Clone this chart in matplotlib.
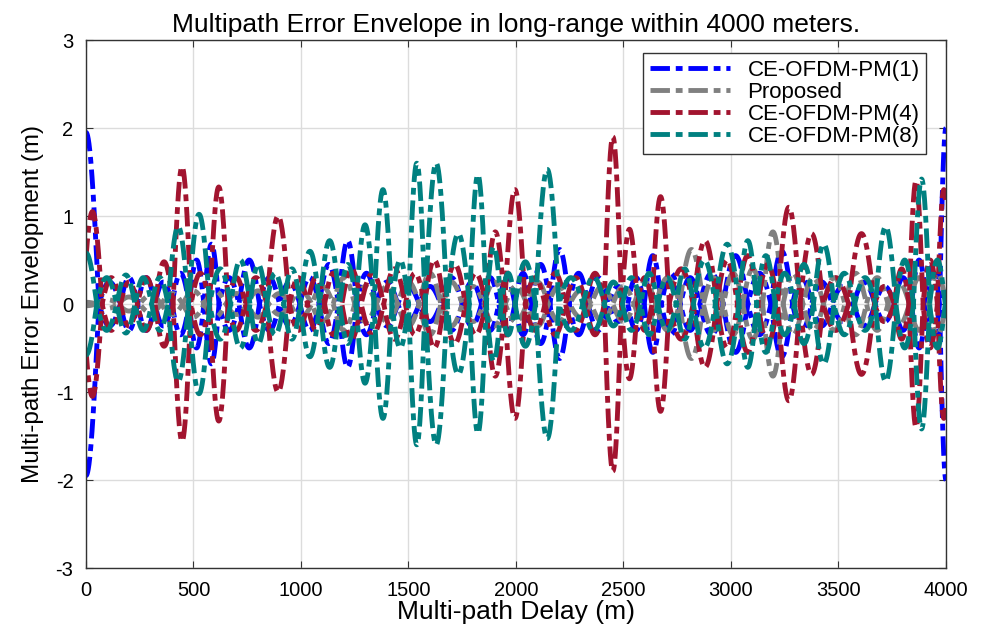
import numpy as np
import matplotlib
matplotlib.use("Agg")
import matplotlib.pyplot as plt

plt.rcParams['font.family'] = ['Liberation Sans', 'DejaVu Sans']
plt.rcParams['axes.unicode_minus'] = False

# lobe peaks of each error envelope: delay (m) and peak error (m)
pm1_x = [0, 120, 200, 280, 360, 440, 520, 577, 660, 763, 850, 950, 1040, 1130, 1219,
         1300, 1400, 1500, 1600, 1700, 1800, 1880, 1960, 2030, 2112, 2205, 2290, 2380,
         2480, 2560, 2633, 2720, 2810, 2900, 3027, 3130, 3242, 3330, 3420, 3520, 3620,
         3720, 3800, 3880, 3940, 4000]
pm1_amp = [1.95, 0.25, 0.3, 0.3, 0.25, 0.35, 0.5, 0.68, 0.3, 0.5, 0.3, 0.25, 0.3, 0.45, 0.72,
           0.35, 0.25, 0.2, 0.2, 0.3, 0.25, 0.3, 0.3, 0.35, 0.45, 0.62, 0.35, 0.3,
           0.2, 0.3, 0.55, 0.35, 0.3, 0.35, 0.55, 0.35, 0.6, 0.3, 0.25, 0.2, 0.25,
           0.2, 0.3, 0.5, 0.45, 2.0]

prop_x = [0, 100, 200, 300, 400, 500, 600, 700, 800, 900, 1000, 1100, 1200, 1300, 1400,
          1500, 1600, 1700, 1800, 1900, 2000, 2100, 2200, 2300, 2400, 2500, 2600, 2700,
          2823, 2920, 3010, 3100, 3195, 3290, 3380, 3480, 3580, 3680, 3780, 3880, 3960]
prop_amp = [0.02, 0.05, 0.08, 0.1, 0.12, 0.15, 0.15, 0.12, 0.15, 0.12, 0.15, 0.2, 0.3, 0.2, 0.2,
            0.25, 0.35, 0.25, 0.2, 0.25, 0.2, 0.25, 0.2, 0.15, 0.2, 0.2, 0.25, 0.3,
            0.62, 0.3, 0.35, 0.4, 0.82, 0.35, 0.3, 0.3, 0.35, 0.3, 0.25, 0.3, 0.35]

pm4_x = [30, 120, 200, 280, 363, 447, 530, 620, 700, 780, 902, 990, 1070, 1150, 1230,
         1330, 1440, 1530, 1620, 1710, 1820, 1900, 1995, 2090, 2180, 2280, 2370, 2451,
         2530, 2600, 2665, 2760, 2888, 2980, 3080, 3170, 3265, 3377, 3480, 3614, 3720,
         3800, 3856, 3930, 3990]
pm4_amp = [1.05, 0.3, 0.25, 0.3, 0.48, 1.56, 0.35, 1.33, 0.3, 0.3, 1.0, 0.3, 0.3, 0.35, 0.4,
           0.35, 0.4, 0.35, 0.5, 0.45, 0.35, 0.82, 1.3, 0.3, 0.35, 0.3, 0.35, 1.9,
           0.85, 0.3, 1.22, 0.4, 0.72, 0.5, 0.55, 0.45, 1.1, 0.8, 0.3, 0.8, 0.2,
           0.4, 1.4, 0.5, 1.3]

pm8_x = [0, 100, 186, 270, 340, 423, 530, 620, 726, 800, 880, 960, 1033, 1140, 1220,
         1293, 1386, 1460, 1540, 1615, 1745, 1822, 1902, 1960, 2033, 2149, 2250, 2372,
         2450, 2540, 2620, 2700, 2790, 2860, 2995, 3079, 3160, 3250, 3340, 3428, 3530,
         3620, 3724, 3810, 3888, 3960]
pm8_amp = [0.58, 0.3, 0.33, 0.3, 0.3, 0.88, 1.02, 0.4, 0.5, 0.45, 0.35, 0.4, 0.6, 0.72, 0.45,
           0.9, 1.3, 0.5, 1.6, 1.6, 0.8, 1.47, 0.65, 0.35, 0.48, 1.53, 0.3, 0.31,
           0.25, 0.3, 0.35, 0.3, 0.4, 0.5, 0.68, 0.72, 0.55, 0.35, 0.45, 0.68, 0.35,
           0.3, 0.88, 0.5, 1.42, 0.5]

series = [
    ("CE-OFDM-PM(1)", pm1_x, pm1_amp, "#0000FF"),
    ("Proposed", prop_x, prop_amp, "#808080"),
    ("CE-OFDM-PM(4)", pm4_x, pm4_amp, "#A2142F"),
    ("CE-OFDM-PM(8)", pm8_x, pm8_amp, "#008080"),
]

delay = np.linspace(0, 4000, 8001)


def envelope(peaks, amps, x):
    # each lobe runs between the midpoints of neighbouring peaks, sign alternates
    peaks = np.asarray(peaks, float)
    mids = (peaks[1:] + peaks[:-1]) / 2
    edges = np.concatenate([[peaks[0] - (peaks[1] - peaks[0]) / 2], mids,
                            [peaks[-1] + (peaks[-1] - peaks[-2]) / 2]])
    y = np.zeros_like(x)
    for i, a in enumerate(amps):
        lo, hi = edges[i], edges[i + 1]
        m = (x >= lo) & (x <= hi)
        y[m] = (-1) ** i * a * np.sin(np.pi * (x[m] - lo) / (hi - lo))
    return y


fig = plt.figure(figsize=(9.86, 6.30), dpi=100)
ax = fig.add_axes([0.0872, 0.0984, 0.8722, 0.8381])

dash = (0, (4, 1.2, 1.4, 1.2))
for name, px, amp, color in series:
    err = envelope(px, amp, delay)
    ax.plot(delay, err, color=color, lw=3.5, linestyle=dash, label=name)
    ax.plot(delay, -err, color=color, lw=3.5, linestyle=dash)

ax.set_xlim(0, 4000)
ax.set_ylim(-3, 3)
ax.set_xticks(np.arange(0, 4001, 500))
ax.set_yticks(np.arange(-3, 4, 1))
ax.grid(True, color="#DCDCDC", lw=1)
ax.set_axisbelow(True)
ax.tick_params(direction="in", top=True, right=True, labelsize=14.5, length=5,
               color="#333333", pad=9)
for s in ax.spines.values():
    s.set_color("#333333")
    s.set_linewidth(1)

ax.set_title("Multipath Error Envelope in long-range within 4000 meters.",
             fontsize=19, pad=6)
ax.set_xlabel("Multi-path Delay (m)", fontsize=19, labelpad=0)
ax.set_ylabel("Multi-path Error Envelopment (m)", fontsize=17.5, labelpad=8)

leg = ax.legend(loc="upper right", fontsize=16, handlelength=3.6,
                fancybox=False, framealpha=1, borderpad=0.3, labelspacing=0.05,
                borderaxespad=0, bbox_to_anchor=(0.977, 0.975))
leg.get_frame().set_edgecolor("#333333")
leg.get_frame().set_linewidth(1)

fig.savefig("out.png", dpi=100)
